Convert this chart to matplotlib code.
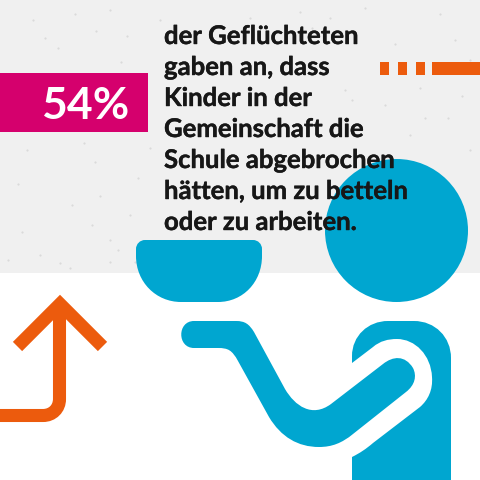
"""Infographic tile: 54% of refugees, drawn in pixel coordinates of the 480x480 picture."""
import matplotlib

matplotlib.use("Agg")
import matplotlib.pyplot as plt
import matplotlib.patheffects as pe
from matplotlib.patches import Circle, PathPatch, Rectangle
from matplotlib.path import Path

share_label = "54%"
text_lines = [
    "der Geflüchteten",
    "gaben an, dass",
    "Kinder in der",
    "Gemeinschaft die",
    "Schule abgebrochen",
    "hätten, um zu betteln",
    "oder zu arbeiten.",
]

GREY = "#f0f0f0"
PINK = "#d5006d"
BLUE = "#00a6d0"
ORANGE = "#ec5b0d"
INK = "#171717"

M, L, C, Z = Path.MOVETO, Path.LINETO, Path.CURVE4, Path.CLOSEPOLY


def shape(start, *segments):
    """Closed path from a start point; 1 point is a line, 3 points a bezier."""
    verts, codes = [start], [M]
    for seg in segments:
        if len(seg) == 2 and not isinstance(seg[0], tuple):
            verts.append(seg)
            codes.append(L)
        else:
            verts.extend(seg)
            codes.extend([C, C, C])
    verts.append(start)
    codes.append(Z)
    return Path(verts, codes)


fig = plt.figure(figsize=(4.8, 4.8), dpi=100, facecolor="white")
ax = fig.add_axes([0, 0, 1, 1])
ax.set_xlim(0, 480)
ax.set_ylim(480, 0)
ax.axis("off")

# paper background with a few flecks
ax.add_patch(Rectangle((0, 0), 480, 273, fc=GREY, ec="none"))
flecks_x = [33, 58, 96, 121, 160, 27, 72, 95, 138, 40, 110, 22, 84, 130, 118, 160, 330, 352, 395, 440,
            462, 425, 345, 470, 410, 455, 60, 150, 15, 300, 385, 110, 345, 100, 75, 45, 92, 420, 365, 470,
            250, 312, 448, 18, 127, 110, 70, 8, 150, 135]
flecks_y = [20, 48, 31, 62, 20, 150, 205, 162, 178, 255, 262, 232, 143, 215, 250, 266, 18, 100, 44, 14,
            96, 118, 90, 150, 135, 40, 263, 148, 110, 12, 105, 10, 262, 196, 14, 38, 225, 88, 8, 60,
            18, 28, 118, 184, 36, 240, 268, 260, 258, 262]
ax.scatter(flecks_x, flecks_y, s=2.5, c="#dadada", linewidths=0, zorder=1)

# pink label
ax.add_patch(Rectangle((0, 73), 148, 59, fc=PINK, ec="none", zorder=2))
ax.text(129, 119, share_label, family="Lato", weight="bold", fontsize=32, color="white",
        ha="right", va="baseline", zorder=5)

# orange dashes
for x0, w in [(380, 9), (398, 9), (416, 9), (432, 48)]:
    ax.add_patch(Rectangle((x0, 62), w, 13, fc=ORANGE, ec="none", zorder=2))

# orange arrow
arrow_stem = Path([(0, 415.5), (43, 415.5), (52.5, 415.5), (59.5, 408.5), (59.5, 399), (59.5, 304)],
                  [M, L, C, C, C, L])
arrow_head = Path([(17.5, 346.5), (60, 304), (102.5, 346.5)], [M, L, L])
for p in (arrow_stem, arrow_head):
    ax.add_patch(PathPatch(p, fc="none", ec=ORANGE, lw=9.4, capstyle="butt", joinstyle="miter", zorder=2))

# person: head, bowl, arm, body
ax.add_patch(Circle((396.5, 230.5), 71.5, fc=BLUE, ec="none", zorder=2))

bowl = shape(
    (145, 240),
    (253, 240),
    ((258, 240), (262, 244), (262, 249)),
    (262, 256),
    ((262, 282), (243, 302), (218, 302)),
    (181, 302),
    ((156, 302), (136, 282), (136, 256)),
    (136, 249),
    ((136, 244), (140, 240), (145, 240)),
)
ax.add_patch(PathPatch(bowl, fc=BLUE, ec="none", zorder=2))

arm = shape(
    (194, 321),
    (236, 321),
    ((245, 321), (249, 324), (254, 332)),
    (285, 389),
    ((295, 406), (312, 418), (331, 404)),
    (383, 364),
    ((393, 356), (405, 355), (413, 368)),
    ((417, 376), (415, 385), (406, 392)),
    (353, 434),
    ((342, 443), (332, 447), (319, 447)),
    ((298, 447), (281, 437), (269, 417)),
    (238, 361),
    ((232, 350), (228, 348), (218, 348)),
    (194, 348),
    ((177, 348), (177, 321), (194, 321)),
)
ax.add_patch(PathPatch(arm, fc=BLUE, ec="none", zorder=2))

body = shape(
    (352, 480),
    (352, 457),
    ((360, 453), (366, 449), (373, 443)),
    (420, 407),
    ((428, 400), (433, 390), (432, 377)),
    ((431, 355), (415, 339), (397, 339)),
    ((388, 339), (380, 341), (373, 347)),
    (352, 363),
    (352, 356),
    ((352, 336), (368, 321), (388, 321)),
    (414, 321),
    ((435, 321), (451, 337), (451, 358)),
    (451, 480),
)
ax.add_patch(PathPatch(body, fc=BLUE, ec="none", zorder=2))

# statement text on top of the shapes
for i, line in enumerate(text_lines):
    ax.text(164, 44 + i * 31, line, family="Lato", weight="bold", fontsize=18.5, color=INK,
            ha="left", va="baseline", zorder=6,
            path_effects=[pe.withStroke(linewidth=0.3, foreground=INK)])

fig.savefig("out.png", dpi=100)
